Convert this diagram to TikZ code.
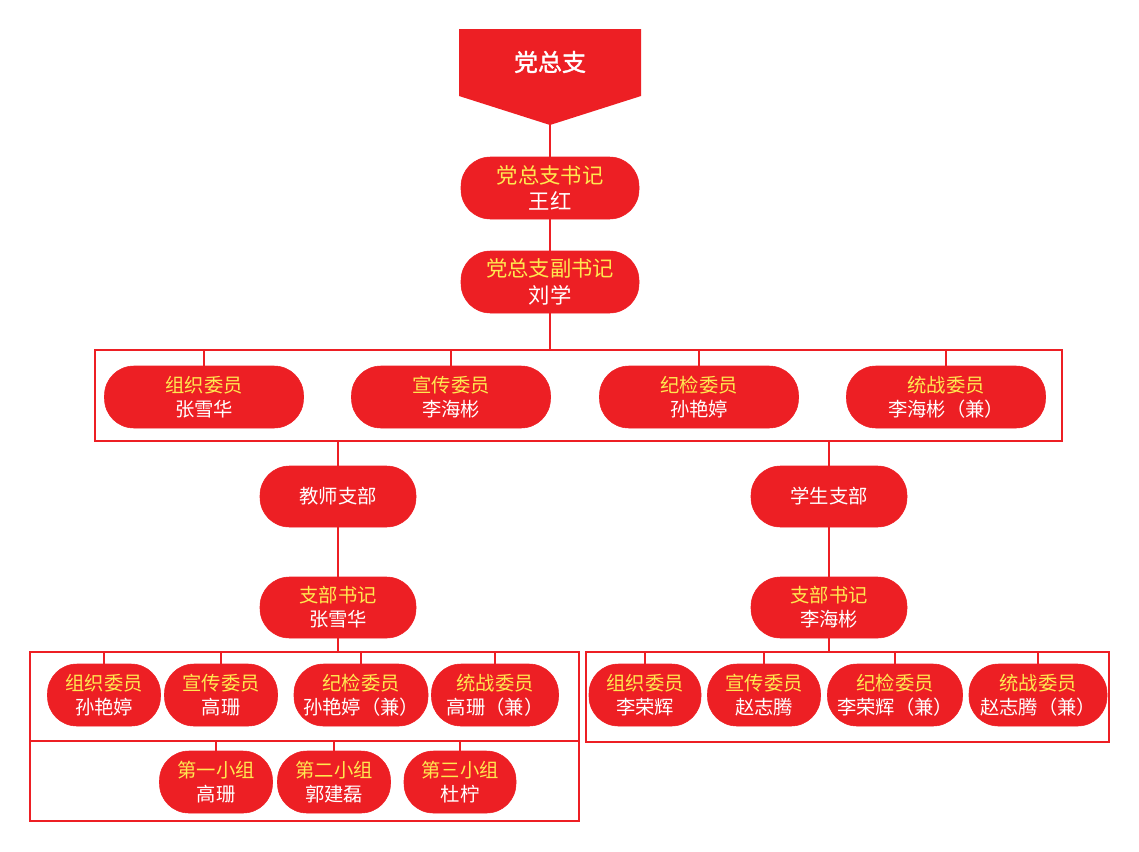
\documentclass[tikz,border=0pt]{standalone}
\usepackage{fontspec}
\newfontfamily\cjk[AutoFakeBold=1.5]{Noto Sans CJK SC}
\usetikzlibrary{positioning}
\definecolor{partyred}{RGB}{237,31,36}
\definecolor{titleyellow}{RGB}{255,232,80}
\tikzset{
  post/.style={draw=partyred, fill=partyred, rounded corners=22pt, text=white,
    font=\cjk\fontsize{14.5}{18}\selectfont, align=center, inner sep=0pt,
    minimum height=46.5pt},
  bigpost/.style={post, font=\cjk\fontsize{16}{20}\selectfont, minimum width=133.5pt},
  branch/.style={post, minimum width=117pt, minimum height=45.75pt},
  groupbox/.style={draw=partyred, line width=1.2pt, inner sep=0pt},
  link/.style={draw=partyred, line width=1pt},
}
\newcommand{\duty}[2]{{\color{titleyellow}#1}\\#2}

\begin{document}
\begin{tikzpicture}[x=0.75pt, y=-0.75pt]
\useasboundingbox (0,0) rectangle (1139,851);

% banner
\fill[partyred] (459,29) -- (641,29) -- (641,96) -- (550,125) -- (459,96) -- cycle;
\node[text=white, font=\cjk\bfseries\fontsize{18}{20}\selectfont] (top) at (550,62) {党总支};
\coordinate (toptip) at (550,125);

% committee
\node[bigpost] (sec)  at (550,188) {\duty{党总支书记}{王红}};
\node[bigpost] (dsec) at (550,282) {\duty{党总支副书记}{刘学}};
\node[groupbox, minimum width=725.25pt, minimum height=68.25pt] (board) at (578.5,395.5) {};
\node[post, minimum width=149.25pt] (org)   at (204,397) {\duty{组织委员}{张雪华}};
\node[post, minimum width=149.25pt] (prop)  at (451,397) {\duty{宣传委员}{李海彬}};
\node[post, minimum width=149.25pt] (disc)  at (699,397) {\duty{纪检委员}{孙艳婷}};
\node[post, minimum width=149.25pt] (front) at (946,397) {\duty{统战委员}{李海彬（兼）}};

% branches
\node[branch] (tbr) at (338,496.5) {教师支部};
\node[branch] (sbr) at (829,496.5) {学生支部};
\node[branch] (tsec) at (338,607.5) {\duty{支部书记}{张雪华}};
\node[branch] (ssec) at (829,607.5) {\duty{支部书记}{李海彬}};

% teacher branch committee and groups
\node[groupbox, minimum width=411.75pt, minimum height=66.75pt] (tboard) at (304.5,696.5) {};
\node[groupbox, minimum width=411.75pt, minimum height=60pt] (tgroups) at (304.5,781) {};
\node[post, minimum width=84.75pt]  (torg)   at (104,695) {\duty{组织委员}{孙艳婷}};
\node[post, minimum width=84.75pt]  (tprop)  at (221,695) {\duty{宣传委员}{高珊}};
\node[post, minimum width=100.5pt]  (tdisc)  at (361,695) {\duty{纪检委员}{孙艳婷（兼）}};
\node[post, minimum width=95.25pt]  (tfront) at (495,695) {\duty{统战委员}{高珊（兼）}};
\node[post, minimum width=84.75pt]  (g1) at (216,782) {\duty{第一小组}{高珊}};
\node[post, minimum width=84.75pt]  (g2) at (334,782) {\duty{第二小组}{郭建磊}};
\node[post, minimum width=84pt]     (g3) at (460,782) {\duty{第三小组}{杜柠}};

% student branch committee
\node[groupbox, minimum width=392.25pt, minimum height=67.5pt] (sboard) at (847.5,697) {};
\node[post, minimum width=84pt]     (sorg)   at (645,695) {\duty{组织委员}{李荣辉}};
\node[post, minimum width=84.75pt]  (sprop)  at (764,695) {\duty{宣传委员}{赵志腾}};
\node[post, minimum width=101.25pt] (sdisc)  at (895,695) {\duty{纪检委员}{李荣辉（兼）}};
\node[post, minimum width=103.5pt]  (sfront) at (1038,695) {\duty{统战委员}{赵志腾（兼）}};

% connectors
\draw[link] (toptip) -- (sec.north);
\draw[link] (sec.south) -- (dsec.north);
\draw[link] (dsec.south) -- (dsec |- board.north);
\foreach \m in {org,prop,disc,front}
  \draw[link] (\m.north) -- (\m |- board.north);
\draw[link] (board.south -| tbr) -- (tbr.north);
\draw[link] (board.south -| sbr) -- (sbr.north);
\draw[link] (tbr.south) -- (tsec.north);
\draw[link] (sbr.south) -- (ssec.north);
\draw[link] (tsec.south) -- (tsec |- tboard.north);
\draw[link] (ssec.south) -- (ssec |- sboard.north);
\foreach \m in {torg,tprop,tdisc,tfront}
  \draw[link] (\m.north) -- (\m |- tboard.north);
\foreach \m in {g1,g2,g3}
  \draw[link] (\m.north) -- (\m |- tgroups.north);
\foreach \m in {sorg,sprop,sdisc,sfront}
  \draw[link] (\m.north) -- (\m |- sboard.north);
\end{tikzpicture}
\end{document}
